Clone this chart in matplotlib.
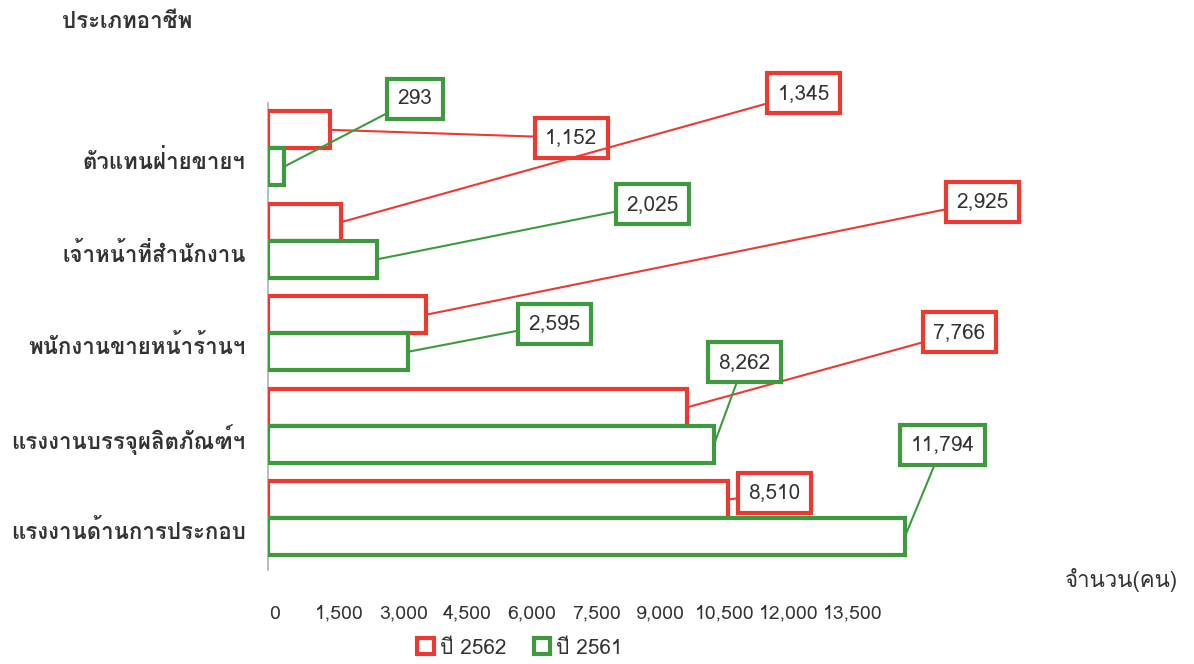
import matplotlib
matplotlib.use("Agg")
import matplotlib.pyplot as plt
from matplotlib import font_manager as fm
from matplotlib.ft2font import FT2Font
from matplotlib.patches import Patch
import numpy as np

# ---------------- data ----------------
categories = ["ตัวแทนฝ่ายขายฯ", "เจ้าหน้าที่สำนักงาน", "พนักงานขายหน้าร้านฯ",
              "แรงงานบรรจุผลิตภัณฑ์ฯ", "แรงงานด้านการประกอบ"]
values_2562 = [1152, 1345, 2925, 7766, 8510]
values_2561 = [293, 2025, 2595, 8262, 11794]
series_names = ["ปี 2562", "ปี 2561"]
tick_values = [0, 1500, 3000, 4500, 6000, 7500, 9000, 10500, 12000, 13500]
y_title = "ประเภทอาชีพ"
x_title = "จำนวน(คน)"

# ---------------- fonts ----------------
thai = []
for f in fm.fontManager.ttflist:
    try:
        cm = FT2Font(f.fname).get_charmap()
    except Exception:
        continue
    if 0x0E01 in cm and 0x0E33 in cm and f.name not in thai:
        thai.append(f.name)
fam = (thai[:1] if thai else []) + ["DejaVu Sans"]
plt.rcParams["font.family"] = fam

RED = "#ec3a32"
GREEN = "#3d9a3f"
TXT = "#333333"
WT = "bold"

W, H = 1194, 664
fig = plt.figure(figsize=(W / 100, H / 100), dpi=100)
ax_l, ax_r, ax_t, ax_b = 268, 1078, 103, 570
ax = fig.add_axes([ax_l / W, 1 - ax_b / H, (ax_r - ax_l) / W, (ax_b - ax_t) / H])

y = np.arange(len(categories))
h = 0.40
ax.barh(y - h / 2, values_2562, height=h, facecolor="white", edgecolor=RED, linewidth=3, zorder=3)
ax.barh(y + h / 2, values_2561, height=h, facecolor="white", edgecolor=GREEN, linewidth=3, zorder=3)
ax.set_xlim(0, 15000)
ax.set_ylim(4.56, -0.49)

for s in ["top", "right", "bottom"]:
    ax.spines[s].set_visible(False)
ax.spines["left"].set_color("#b0b0b0")
ax.spines["left"].set_linewidth(1.2)
ax.set_yticks(y + 0.12)
ax.set_yticklabels(categories, fontsize=16, color=TXT, fontweight=WT)
ax.tick_params(axis="y", length=0, pad=16)
ax.set_xticks([])

# tick labels (scale of the printed axis text)
ax2 = ax.twiny()
ax2.xaxis.set_ticks_position("bottom")
ax2.xaxis.set_label_position("bottom")
for s in ax2.spines.values():
    s.set_visible(False)
px0, px1 = 275 - ax_l, 853 - ax_l
scale = (px1 - px0) / tick_values[-1]
ax2.set_xlim(-px0 / scale, ((ax_r - ax_l) - px0) / scale)
ax2.set_xticks(tick_values)
ax2.set_xticklabels([f"{v:,}" for v in tick_values], fontsize=14, color=TXT)
ax2.tick_params(axis="x", length=0, pad=25)

# annotation boxes
offsets_2562 = [(241, -8), (463, 129), (557, 113), (272, 75), (47, 7)]
offsets_2561 = [(131, 68), (275, 55), (146, 28), (30, 82), (38, 92)]
for vals, offs, col, dy in [(values_2562, offsets_2562, RED, -h / 2),
                            (values_2561, offsets_2561, GREEN, h / 2)]:
    for i, (v, off) in enumerate(zip(vals, offs)):
        ax.annotate(f"{v:,}", xy=(v, i + dy), xytext=off, textcoords="offset pixels",
                    ha="center", va="center", fontsize=15, color=TXT, zorder=5,
                    bbox=dict(boxstyle="square,pad=0.5", fc="white", ec=col, lw=3),
                    arrowprops=dict(arrowstyle="-", color=col, lw=1.5,
                                    shrinkA=0, shrinkB=0))

fig.text(62 / W, 1 - 22 / H, y_title, fontsize=16, color=TXT, ha="left", va="center",
         fontweight=WT)
fig.text(1065 / W, 1 - 580 / H, x_title, fontsize=16, color=TXT, ha="left", va="center")

handles = [Patch(facecolor="white", edgecolor=RED, linewidth=3),
           Patch(facecolor="white", edgecolor=GREEN, linewidth=3)]
fig.legend(handles, series_names, loc="center", bbox_to_anchor=(520 / W, 1 - 648 / H),
           ncol=2, frameon=False, fontsize=15, handlelength=0.8, handleheight=0.8,
           handletextpad=0.3, columnspacing=1.3, labelcolor=TXT)

fig.savefig("out.png", dpi=100)
